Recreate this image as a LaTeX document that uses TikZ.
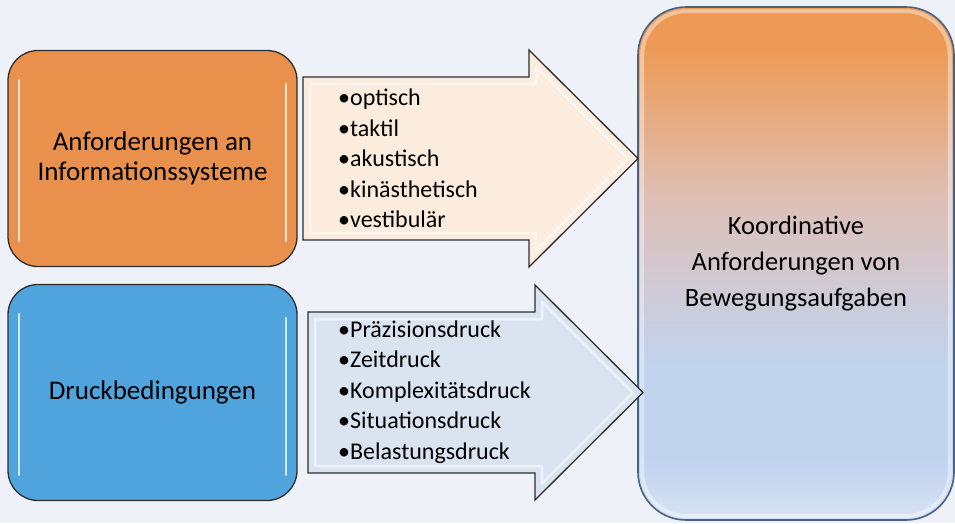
\documentclass[tikz,border=0pt]{standalone}
\usepackage{fontspec}
\setmainfont{Carlito}
\usepackage{tikz}
\definecolor{bgcol}{RGB}{238,242,248}
\definecolor{infocol}{RGB}{233,145,76}
\definecolor{druckcol}{RGB}{80,164,221}
\definecolor{infoarrow}{RGB}{251,236,221}
\definecolor{druckarrow}{RGB}{218,228,240}
\definecolor{outline}{RGB}{45,45,45}
\definecolor{koordline}{RGB}{70,100,135}
\definecolor{korange}{RGB}{237,154,87}
\definecolor{kmid}{RGB}{221,192,184}
\definecolor{kblue}{RGB}{194,211,238}
\definecolor{kbot}{RGB}{214,226,243}
\pgfdeclareverticalshading{koordshade}{100bp}{color(0bp)=(kbot); color(25bp)=(kbot); color(31bp)=(kblue); color(40bp)=(kblue); color(56bp)=(kmid); color(71bp)=(korange); color(100bp)=(korange)}
\tikzset{
  box/.style={draw=outline,line width=1.3pt,rounded corners=30pt,minimum width=289pt,minimum height=216pt,inner sep=0pt,align=center,font=\fontsize{27}{30}\selectfont},
  bigbox/.style={draw=koordline,line width=1.6pt,rounded corners=48pt,minimum width=316pt,minimum height=513pt,inner sep=0pt,align=center,font=\fontsize{26.5}{36}\selectfont,shade,shading=koordshade},
  blockarrow/.style={draw=outline,line width=1.3pt,line join=miter},
  bevel/.style={draw=white,opacity=0.55,line width=2.5pt,line join=round},
  gloss/.style={draw=white,opacity=0.75,line width=2.2pt,line cap=round},
  glow/.style={draw=white,opacity=0.4,line width=4pt,rounded corners=44pt},
  items/.style={font=\fontsize{24}{30.5}\selectfont,align=left,anchor=west,inner sep=0pt},
}
\begin{document}
\begin{tikzpicture}[x=1pt,y=1pt]
  \useasboundingbox (0,0) rectangle (955,-523);
  \fill[bgcol] (0,0) rectangle (955,-523);
  % left boxes
  \node[box,fill=infocol] (info) at (152.5,-158.5) {Anforderungen an\\Informationssysteme};
  \node[box,fill=druckcol] (druck) at (152.5,-392.5) {Druckbedingungen};
  \foreach \b in {info,druck}{
    \draw[gloss] ([shift={(12,-30)}]\b.north west) -- ([shift={(12,26)}]\b.south west);
    \draw[gloss] ([shift={(-12,-34)}]\b.north east) -- ([shift={(-12,26)}]\b.south east);
  }
  % right box
  \node[bigbox] (koord) at (796,-263.5) {Koordinative\\Anforderungen von\\Bewegungsaufgaben};
  \draw[glow] ([shift={(5,-5)}]koord.north west) rectangle ([shift={(-5,5)}]koord.south east);
  % block arrows
  \filldraw[blockarrow,fill=infoarrow] (303,-77) -- (529,-77) -- (529,-50) -- (638,-158.5)
    -- (529,-267) -- (529,-240) -- (303,-240) -- cycle;
  \draw[bevel] (310,-84) -- (536,-84) -- (536,-66.9) -- (627.9,-158.8) -- (536,-250.6)
    -- (536,-233) -- (310,-233) -- cycle;
  \filldraw[blockarrow,fill=druckarrow] (308,-312) -- (535,-312) -- (535,-285) -- (643,-392.5)
    -- (535,-500) -- (535,-473) -- (308,-473) -- cycle;
  \draw[bevel] (315,-319) -- (542,-319) -- (542,-301.9) -- (632.9,-392.7) -- (542,-483.6)
    -- (542,-466) -- (315,-466) -- cycle;
  % lists
  \node[items] (infolist) at (338,-158.5) {•optisch\\•taktil\\•akustisch\\•kinästhetisch\\•vestibulär};
  \node[items] (drucklist) at (338,-392) {•Präzisionsdruck\\•Zeitdruck\\•Komplexitätsdruck\\•Situationsdruck\\•Belastungsdruck};
\end{tikzpicture}
\end{document}
